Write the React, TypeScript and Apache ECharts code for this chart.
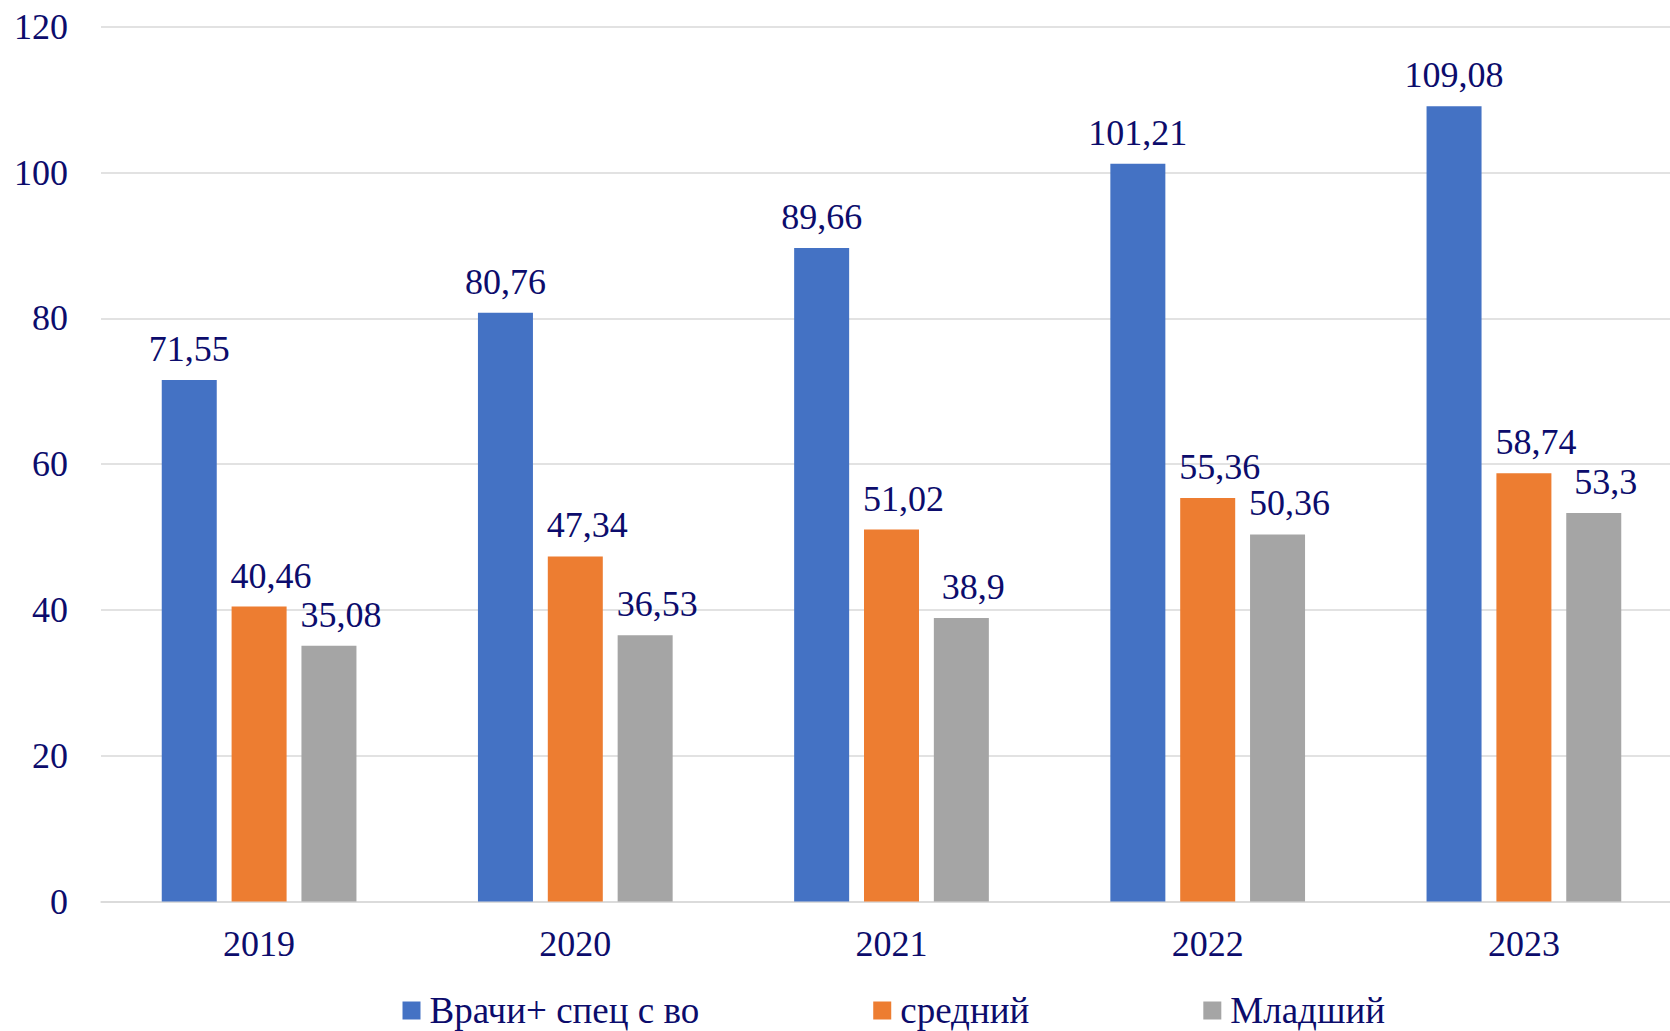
import React, { useEffect, useRef } from "react";
import * as echarts from "echarts";

const categories = ["2019", "2020", "2021", "2022", "2023"];
const seriesNames = ["Врачи+ спец с во", "средний", "Младший"];
const doctors = [71.55, 80.76, 89.66, 101.21, 109.08];
const middle = [40.46, 47.34, 51.02, 55.36, 58.74];
const junior = [35.08, 36.53, 38.9, 50.36, 53.3];
const colors = ["#4472C4", "#ED7D31", "#A5A5A5"];
const labelShift = [0, 12, 12];

const FONT = "Liberation Serif";
const TEXT = "#0c0c6c";

export default function App() {
  const ref = useRef<HTMLDivElement>(null);
  useEffect(() => {
    document.body.style.margin = "0";
    const chart = echarts.init(ref.current!, null, { renderer: "svg" });
    const data = [doctors, middle, junior];
    chart.setOption({
      animation: false,
      backgroundColor: "#ffffff",
      textStyle: { fontFamily: FONT, color: TEXT },
      grid: {
        left: 101,
        width: 1581,
        top: 26.7,
        bottom: 129.5,
        containLabel: false,
        outerBoundsMode: "none",
      },
      legend: {
        left: 402.5,
        top: 992,
        padding: 0,
        itemWidth: 18,
        itemHeight: 18,
        itemGap: 174,
        icon: "rect",
        textStyle: { fontFamily: FONT, fontSize: 37, color: TEXT, padding: [0, 0, 0, 4] },
        data: seriesNames,
      },
      xAxis: {
        type: "category",
        data: categories,
        axisLine: { lineStyle: { color: "#d9d9d9", width: 1.5 } },
        axisTick: { show: false },
        axisLabel: { fontFamily: FONT, fontSize: 36, color: TEXT, margin: 24 },
      },
      yAxis: {
        type: "value",
        min: 0,
        max: 120,
        interval: 20,
        axisLine: { show: false },
        axisTick: { show: false },
        splitLine: { lineStyle: { color: "#d9d9d9", width: 1.5 } },
        axisLabel: { fontFamily: FONT, fontSize: 36, color: TEXT, margin: 33 },
      },
      series: seriesNames.map((name, i) => ({
        name,
        type: "bar",
        data: data[i],
        barWidth: 55,
        barGap: "27%",
        itemStyle: { color: colors[i] },
        label: {
          show: true,
          position: "top",
          distance: 13,
          offset: [labelShift[i], 0],
          fontFamily: FONT,
          fontSize: 36,
          color: TEXT,
          formatter: (p: any) => String(p.value).replace(".", ","),
        },
      })),
    });
    return () => chart.dispose();
  }, []);
  return (
    <div
      ref={ref}
      style={{ position: "fixed", left: 0, top: 0, width: 1670, height: 1031 }}
    />
  );
}
